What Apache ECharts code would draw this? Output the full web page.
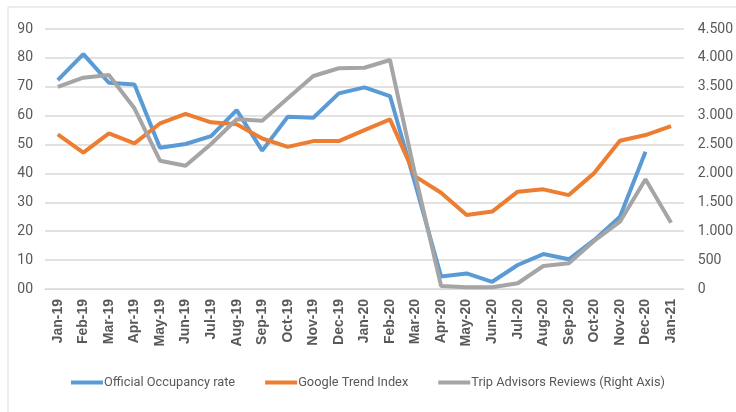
<!DOCTYPE html>
<html>
<head>
<meta charset="utf-8">
<script src="https://cdn.jsdelivr.net/npm/echarts@6/dist/echarts.min.js"></script>
<style>
  html, body { margin: 0; padding: 0; background: #fff; }
  #chart { width: 736px; height: 412px; }
</style>
</head>
<body>
<div id="chart"></div>
<script>
// categories
var months = ['Jan-19', 'Feb-19', 'Mar-19', 'Apr-19', 'May-19', 'Jun-19', 'Jul-19', 'Aug-19', 'Sep-19', 'Oct-19', 'Nov-19', 'Dec-19',
  'Jan-20', 'Feb-20', 'Mar-20', 'Apr-20', 'May-20', 'Jun-20', 'Jul-20', 'Aug-20', 'Sep-20', 'Oct-20', 'Nov-20', 'Dec-20', 'Jan-21'];
// left axis
var occupancy = [72.3, 81.3, 71.4, 70.8, 48.9, 50.2, 52.9, 61.9, 47.9, 59.6, 59.3, 67.7,
  69.8, 66.8, 36, 4.3, 5.4, 2.5, 8.3, 12.1, 10.3, 17, 25, 47.5, null];
var googleTrend = [53.5, 47.2, 53.9, 50.4, 57.3, 60.6, 57.7, 57, 52.1, 49.2, 51.2, 51.2,
  55, 58.7, 38.9, 33.3, 25.6, 26.8, 33.7, 34.5, 32.5, 40.2, 51.3, 53.3, 56.4];
// right axis
var tripReviews = [3500, 3657, 3704, 3127, 2221, 2134, 2510, 2937, 2913, 3300, 3686, 3820,
  3830, 3964, 1950, 52, 30, 30, 99, 398, 445, 836, 1165, 1898, 1148];

var chart = echarts.init(document.getElementById('chart'));
var gridColor = '#d9d9d9';
var labelColor = '#595959';
var narrow = 'Roboto';

chart.setOption({
  animation: false,
  color: ['#5b9bd5', '#ed7d31', '#a5a5a5'],
  graphic: [{
    type: 'rect',
    shape: { x: 8, y: 7, width: 760, height: 440 },
    style: { fill: 'none', stroke: '#d9d9d9', lineWidth: 1 }
  }],
  legend: {
    bottom: 18,
    left: 'center',
    itemWidth: 32,
    itemHeight: 4,
    itemGap: 30,
    icon: 'rect',
    textStyle: { color: labelColor, fontSize: 12.8, fontFamily: narrow, padding: [0, 0, 0, -4] }
  },
  grid: { left: 45, right: 46, top: 29, bottom: 123 },
  xAxis: {
    type: 'category',
    data: months,
    boundaryGap: true,
    axisLine: { lineStyle: { color: gridColor } },
    axisTick: { show: false },
    axisLabel: {
      rotate: 90,
      color: labelColor,
      fontSize: 14,
      fontWeight: 'bold',
      fontFamily: 'Liberation Sans',
      margin: 10
    }
  },
  yAxis: [{
    type: 'value',
    min: 0,
    max: 90,
    interval: 10,
    axisLine: { show: false },
    axisTick: { show: false },
    splitLine: { lineStyle: { color: gridColor, width: 1.5 } },
    axisLabel: {
      color: labelColor,
      fontSize: 14,
      fontFamily: narrow,
      margin: 12,
      formatter: function (v) { return v < 10 ? '0' + v : String(v); }
    }
  }, {
    type: 'value',
    min: 0,
    max: 4500,
    interval: 500,
    axisLine: { show: false },
    axisTick: { show: false },
    splitLine: { show: false },
    axisLabel: {
      color: labelColor,
      fontSize: 14,
      fontFamily: narrow,
      margin: 14,
      formatter: function (v) { return v >= 1000 ? (v / 1000).toFixed(3) : String(v); }
    }
  }],
  series: [{
    name: 'Official Occupancy rate',
    type: 'line',
    data: occupancy,
    showSymbol: false,
    lineStyle: { width: 4 }
  }, {
    name: 'Google Trend Index',
    type: 'line',
    data: googleTrend,
    showSymbol: false,
    lineStyle: { width: 4 }
  }, {
    name: 'Trip Advisors Reviews (Right Axis)',
    type: 'line',
    yAxisIndex: 1,
    data: tripReviews,
    showSymbol: false,
    lineStyle: { width: 4 }
  }]
});
</script>
</body>
</html>
